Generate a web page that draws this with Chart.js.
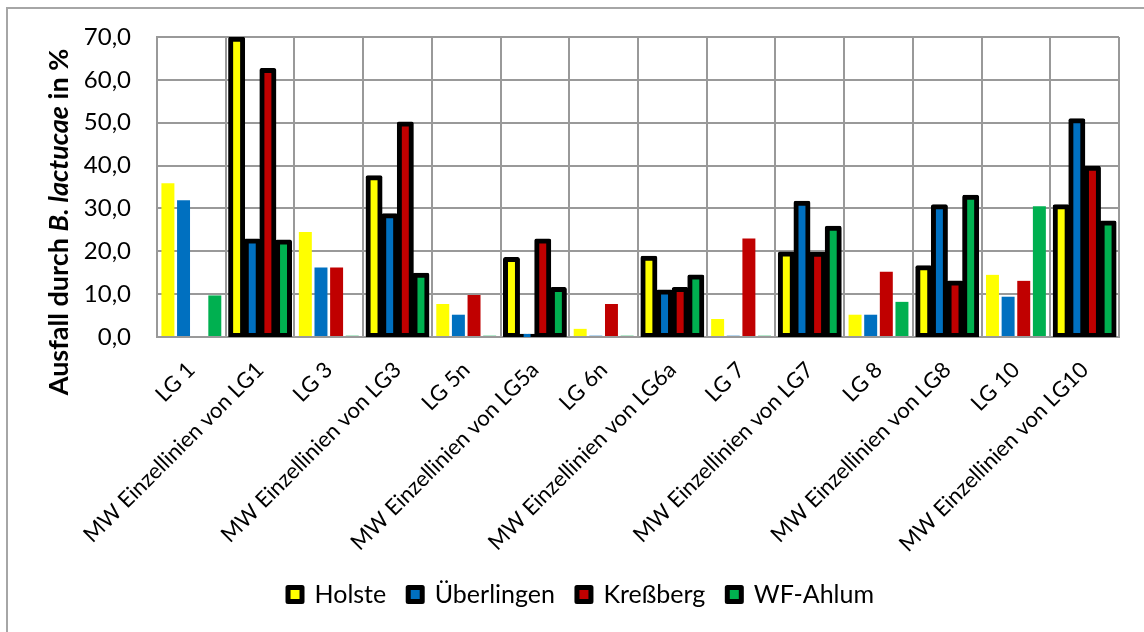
<!DOCTYPE html>
<html lang="de">
<head>
<meta charset="utf-8">
<title>Ausfall durch B. lactucae</title>
<script src="https://cdn.jsdelivr.net/npm/chart.js@4/dist/chart.umd.min.js"></script>
<style>
  html, body { margin: 0; padding: 0; background: #fff; }
  canvas { display: block; }
</style>
</head>
<body>
<canvas id="myChart" width="1144" height="632"></canvas>
<script>
const categories = [
  "LG 1", "MW Einzellinien von LG1",
  "LG 3", "MW Einzellinien von LG3",
  "LG 5n", "MW Einzellinien von LG5a",
  "LG 6n", "MW Einzellinien von LG6a",
  "LG 7", "MW Einzellinien von LG7",
  "LG 8", "MW Einzellinien von LG8",
  "LG 10", "MW Einzellinien von LG10"
];

const holste     = [35.9, 69.6, 24.5, 37.3, 7.7, 18.2, 1.9, 18.5, 4.2, 19.5, 5.2, 16.3, 14.5, 30.5];
const ueberlingen = [31.9, 22.5, 16.2, 28.4, 5.2, 0.3, 0.3, 10.6, 0.3, 31.3, 5.2, 30.5, 9.4, 50.6];
const kressberg  = [0, 62.3, 16.2, 49.8, 9.8, 22.5, 7.7, 11.2, 23.0, 19.4, 15.2, 12.7, 13.1, 39.5];
const wfAhlum    = [9.7, 22.3, 0.3, 14.5, 0.3, 11.2, 0.3, 14.1, 0.3, 25.5, 8.2, 32.7, 30.5, 26.7];

const seriesNames = ["Holste", "Überlingen", "Kreßberg", "WF-Ahlum"];
const seriesColors = ["#FFFF00", "#0070C0", "#C00000", "#00B050"];

const yTicks = [0, 10, 20, 30, 40, 50, 60, 70];

// mean values (MW) get the heavy black outline
const isMean = (i) => categories[i] !== undefined && categories[i].startsWith("MW");

const frame = {
  id: "frame",
  beforeDraw(chart) {
    const ctx = chart.ctx;
    ctx.save();
    ctx.strokeStyle = "#a6a6a6";
    ctx.lineWidth = 2;
    ctx.beginPath();
    ctx.moveTo(7, 632);
    ctx.lineTo(7, 8);
    ctx.lineTo(1144, 8);
    ctx.stroke();
    ctx.restore();
  }
};

// y axis title with italic species name
const yTitle = {
  id: "yTitle",
  afterDraw(chart) {
    const ctx = chart.ctx;
    const parts = [
      ["Ausfall durch ", "bold 27px Lato"],
      ["B. lactucae", "italic bold 27px Lato"],
      [" in %", "bold 27px Lato"]
    ];
    let total = 0;
    parts.forEach((p) => { ctx.font = p[1]; total += ctx.measureText(p[0]).width; });
    ctx.save();
    ctx.translate(59, 222);
    ctx.rotate(-Math.PI / 2);
    ctx.fillStyle = "#000";
    ctx.textBaseline = "middle";
    let x = -total / 2;
    parts.forEach((p) => {
      ctx.font = p[1];
      ctx.fillText(p[0], x, 0);
      x += ctx.measureText(p[0]).width;
    });
    ctx.restore();
  }
};

function initChart(chart) {
  const datasets = seriesNames.map((name, k) => ({
    label: name,
    data: [holste, ueberlingen, kressberg, wfAhlum][k],
    backgroundColor: seriesColors[k],
    borderColor: "#000",
    borderWidth: (ctx) => (isMean(ctx.dataIndex) ? 5 : 0),
    borderRadius: (ctx) => (isMean(ctx.dataIndex) ? 2 : 0),
    inflateAmount: (ctx) => (isMean(ctx.dataIndex) ? 2 : 0),
    borderSkipped: false,
    categoryPercentage: 0.91,
    barPercentage: 0.83
  }));

  const config = {
    type: "bar",
    data: { labels: categories, datasets: datasets },
    options: {
      responsive: false,
      animation: false,
      devicePixelRatio: 1,
      layout: { padding: { top: 37, left: 43, right: 25, bottom: 15 } },
      plugins: {
        tooltip: { enabled: false },
        legend: {
          position: "bottom",
          labels: {
            boxWidth: 14,
            boxHeight: 14,
            padding: 22,
            color: "#000",
            font: { family: "Lato", size: 25 },
            generateLabels: () => seriesNames.map((name, k) => ({
              text: name,
              fillStyle: seriesColors[k],
              strokeStyle: "#000",
              lineWidth: 5,
              lineJoin: "round",
              datasetIndex: k
            }))
          }
        }
      },
      scales: {
        x: {
          offset: true,
          grid: { offset: true, color: "#999", lineWidth: 2, drawTicks: false },
          border: { color: "#999", width: 2 },
          ticks: {
            autoSkip: false,
            maxRotation: 45,
            minRotation: 45,
            padding: 20,
            color: "#000",
            font: { family: "Lato", size: 22 }
          },
          afterFit: (scale) => {
            scale.height = 223;
            scale.paddingLeft = 0;
            scale.paddingRight = 0;
          }
        },
        y: {
          min: yTicks[0],
          max: yTicks[yTicks.length - 1],
          grid: { color: "#999", lineWidth: 2, drawTicks: false },
          border: { color: "#999", width: 2 },
          ticks: {
            stepSize: 10,
            padding: 26,
            color: "#000",
            font: { family: "Lato", size: 24 },
            callback: (v) => v.toFixed(1).replace(".", ",")
          },
          afterFit: (scale) => {
            scale.width = 114;
            scale.paddingTop = 0;
            scale.paddingBottom = 0;
          }
        }
      }
    },
    plugins: [frame, yTitle]
  };

  return new Chart(chart, config);
}

async function mainEvent() {
  const chartTarget = document.querySelector("#myChart");
  try {
    await document.fonts.load("22px Lato");
    await document.fonts.load("bold 27px Lato");
    await document.fonts.load("italic bold 27px Lato");
  } catch (e) {}
  initChart(chartTarget);
}

document.addEventListener("DOMContentLoaded", async () => mainEvent());
</script>
</body>
</html>
